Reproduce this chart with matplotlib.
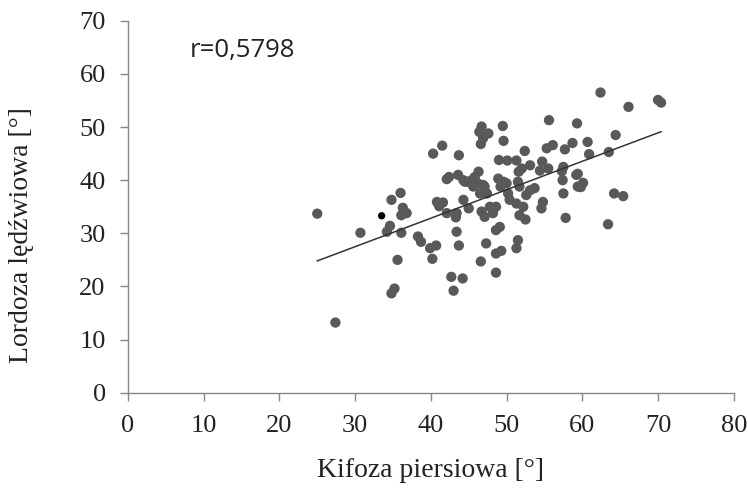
import numpy as np
import matplotlib
matplotlib.use('Agg')
import matplotlib.pyplot as plt

# kifoza piersiowa (x) i lordoza ledzwiowa (y)
kifoza = [25.0, 27.4, 30.7, 34.8, 36.0, 36.3, 36.8, 36.1, 34.6, 34.2,
          36.1, 35.6, 35.2, 34.8, 38.3, 38.7, 39.9, 40.7, 40.2, 40.3,
          41.5, 43.7, 42.1, 42.4, 43.6, 44.3, 44.9, 40.8, 41.6, 41.1,
          42.1, 43.4, 43.3, 44.3, 45.0, 43.4, 43.7, 42.7, 44.2, 43.0,
          46.7, 46.4, 47.6, 46.9, 46.6, 49.5, 49.6, 55.6, 59.3, 52.4,
          55.3, 56.1, 57.7, 58.7, 49.0, 50.1, 51.3, 53.1, 52.0, 51.6,
          54.7, 54.4, 55.5, 57.5, 57.3, 59.2, 59.4, 57.4, 57.5, 57.8,
          46.3, 45.8, 46.2, 47.1, 46.5, 47.4, 48.9, 49.6, 49.2, 50.2,
          50.4, 51.3, 51.5, 51.7, 53.1, 53.7, 52.6, 46.7, 47.1, 47.8,
          48.6, 48.2, 51.7, 52.5, 54.8, 54.6, 47.3, 46.6, 49.1, 48.6,
          48.6, 49.3, 51.5, 51.3, 48.6, 62.4, 66.1, 70.0, 70.4, 64.4,
          60.7, 60.9, 63.5, 59.4, 60.1, 59.8, 64.2, 65.4, 63.4, 44.5,
          45.4, 45.6, 46.9, 50.0, 52.2]
lordoza = [33.7, 13.2, 30.1, 36.3, 37.6, 34.8, 33.8, 33.4, 31.4, 30.3,
           30.1, 25.0, 19.6, 18.7, 29.4, 28.4, 27.2, 27.7, 25.2, 45.0,
           46.5, 44.7, 40.2, 40.6, 41.0, 40.0, 39.7, 35.9, 35.8, 35.1,
           33.8, 33.8, 33.0, 36.3, 34.7, 30.3, 27.7, 21.8, 21.5, 19.2,
           50.1, 49.1, 48.8, 47.9, 46.8, 50.2, 47.4, 51.3, 50.7, 45.5,
           46.0, 46.6, 45.8, 47.0, 43.8, 43.7, 43.7, 42.8, 42.2, 41.6,
           43.5, 41.8, 42.2, 42.5, 41.7, 41.0, 38.8, 40.0, 37.5, 32.9,
           41.6, 40.6, 39.4, 38.8, 37.5, 37.5, 40.3, 39.7, 38.8, 37.5,
           36.3, 35.6, 39.7, 38.8, 38.1, 38.5, 37.2, 34.1, 33.1, 35.0,
           35.0, 33.8, 33.4, 32.6, 35.9, 34.7, 28.1, 24.7, 31.2, 30.6,
           26.2, 26.7, 28.7, 27.2, 22.6, 56.5, 53.8, 55.1, 54.6, 48.5,
           47.2, 44.9, 45.3, 41.2, 39.5, 38.7, 37.5, 37.0, 31.7, 39.7,
           40.0, 38.8, 39.1, 39.4, 35.0]
# jeden punkt zaznaczony na czarno
kifoza_wyr = [33.5]
lordoza_wyr = [33.3]
r_tekst = 'r=0,5798'

x = np.array(kifoza)
y = np.array(lordoza)
a, b = np.polyfit(x, y, 1)
xl = np.array([x.min(), x.max()])

fig = plt.figure(figsize=(7.48, 4.98), dpi=100)
ax = fig.add_axes([0.171, 0.2115, 0.81, 0.7467])

ax.scatter(x, y, s=55, color='#595959', edgecolors='none', zorder=3)
ax.scatter(kifoza_wyr, lordoza_wyr, s=28, color='black', edgecolors='none', zorder=4)
ax.plot(xl, a * xl + b, color='#333333', lw=1.1, zorder=5)

ax.set_xlim(0, 80)
ax.set_ylim(0, 70)
ax.set_xticks(range(0, 81, 10))
ax.set_yticks(range(0, 71, 10))

for s in ['top', 'right']:
    ax.spines[s].set_visible(False)
for s in ['left', 'bottom']:
    ax.spines[s].set_color('#868686')
    ax.spines[s].set_linewidth(1)
ax.tick_params(direction='out', length=6, width=1, color='#868686', pad=10,
               labelsize=19, labelfontfamily='Liberation Serif', labelcolor='#222222')

ax.set_xlabel('Kifoza piersiowa [°]', fontsize=20, family='Liberation Serif', color='#222222')
ax.set_ylabel('Lordoza lędźwiowa [°]', fontsize=20, family='Liberation Serif', color='#222222')
ax.xaxis.set_label_coords(0.5, -0.208)
ax.xaxis.label.set_va('center')
ax.yaxis.set_label_coords(-0.175, 0.424)
ax.yaxis.label.set_va('center')

ax.text(8.2, 64.5, r_tekst, fontsize=18.5, family='Open Sans', color='#222222',
        va='center', ha='left')

fig.savefig('out.png', dpi=100)
